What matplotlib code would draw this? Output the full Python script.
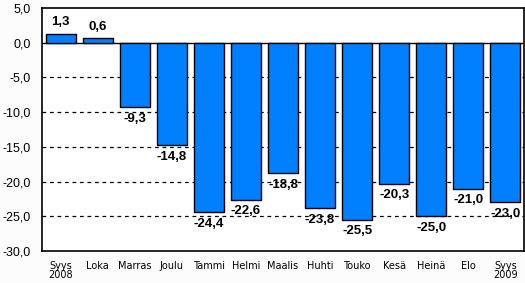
import numpy as np
import matplotlib.pyplot as plt

months = ["Syys\n2008", "Loka", "Marras", "Joulu", "Tammi", "Helmi", "Maalis",
          "Huhti", "Touko", "Kesä", "Heinä", "Elo", "Syys\n2009"]
values = [1.3, 0.6, -9.3, -14.8, -24.4, -22.6, -18.8, -23.8, -25.5, -20.3, -25.0, -21.0, -23.0]
yticks = [5, 0, -5, -10, -15, -20, -25, -30]

plt.rcParams['font.family'] = ['Liberation Sans', 'DejaVu Sans']

fig = plt.figure(figsize=(5.25, 2.83), dpi=100, facecolor='#fcfcfc')
ax = fig.add_axes([0.08, 0.113, 0.918, 0.859])
x = np.arange(len(months))

# gridlines
for y in yticks[2:-1]:
    ax.axhline(y, color='black', linestyle=(0, (3, 3)), linewidth=0.9, zorder=1)
ax.axhline(0, color='black', linewidth=1, zorder=1)

ax.bar(x, values, width=0.81, color='#0080ff', edgecolor='black', linewidth=1, zorder=2)

for xi, v in zip(x, values):
    lab = f"{v:.1f}".replace('.', ',')
    if v >= 0:
        ax.annotate(lab, (xi, v), xytext=(0, 4), textcoords='offset points',
                    ha='center', va='bottom', fontsize=9.5, fontweight='bold', zorder=3)
    else:
        ax.annotate(lab, (xi, v), xytext=(0, -4), textcoords='offset points',
                    ha='center', va='top', fontsize=9.5, fontweight='bold', zorder=3)

ax.set_xlim(-0.5, len(months) - 0.5)
ax.set_ylim(-30, 5)
ax.set_yticks(yticks)
ax.set_yticklabels([f"{t:.1f}".replace('.', ',') for t in yticks], fontsize=9)
ax.set_xticks(x)
ax.set_xticklabels(months, fontsize=7, va='top', linespacing=0.95, family='DejaVu Sans')
ax.tick_params(axis='y', length=0, pad=8)
ax.tick_params(axis='x', length=0, pad=7)
for s in ax.spines.values():
    s.set_linewidth(1.2)

fig.savefig("out.png", dpi=100, facecolor=fig.get_facecolor())
